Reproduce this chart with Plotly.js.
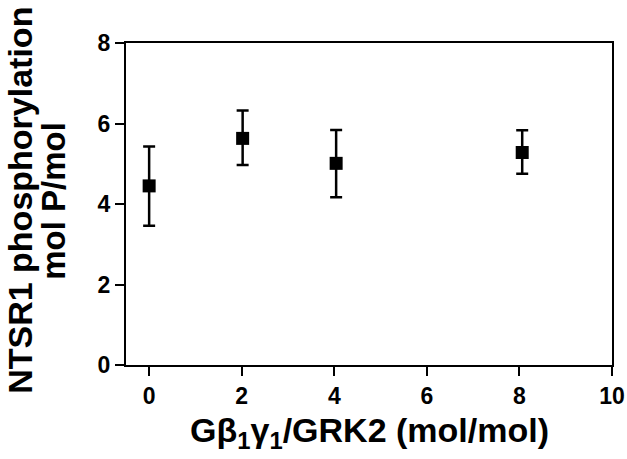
<!DOCTYPE html>
<html>
<head>
<meta charset="utf-8">
<script src="https://cdn.plot.ly/plotly-3.0.1.min.js"></script>
<style>html,body{margin:0;padding:0;background:#fff;}#chart{width:627px;height:459px;}</style>
</head>
<body>
<div id="chart"></div>
<script>
// Data
var ratio = [0, 2.02, 4.04, 8.06];          // Gβ1γ1/GRK2 (mol/mol)
var phospho = [4.45, 5.63, 5.01, 5.28];     // mol P/mol
var errUp = [0.98, 0.69, 0.83, 0.55];
var errDown = [0.99, 0.66, 0.84, 0.53];
var xTicks = [0, 2, 4, 6, 8, 10];
var yTicks = [0, 2, 4, 6, 8];
var xTitle = 'Gβ<sub>1</sub>γ<sub>1</sub>/GRK2 (mol/mol)';
var yTitle1 = 'NTSR1 phosphorylation';
var yTitle2 = 'mol P/mol';

var FONT = 'Liberation Sans, Arial, Helvetica, sans-serif';

var trace = {
  x: ratio, y: phospho, type: 'scatter', mode: 'markers',
  marker: {symbol: 'square', size: 13, color: '#000'},
  error_y: {type: 'data', symmetric: false, array: errUp, arrayminus: errDown,
            color: '#000', thickness: 2.5, width: 6},
  showlegend: false, hoverinfo: 'none'
};

function axisCommon() {
  return {
    showline: true, mirror: true, linecolor: '#000', linewidth: 2,
    ticks: 'outside', tickcolor: '#000', tickwidth: 2, ticklen: 9,
    showgrid: false, zeroline: false,
    tickfont: {family: FONT, size: 23, color: '#000', weight: 'bold'}
  };
}

var layout = {
  width: 627, height: 459,
  margin: {l: 126, r: 15, t: 43, b: 94},
  paper_bgcolor: '#fff', plot_bgcolor: '#fff',
  xaxis: Object.assign(axisCommon(), {range: [-0.5, 10], tickvals: xTicks}),
  yaxis: Object.assign(axisCommon(), {range: [0, 8], tickvals: yTicks}),
  annotations: [
    {text: '<b>' + xTitle + '</b>', xref: 'paper', yref: 'paper', x: 0.5, y: -0.21,
     xanchor: 'center', yanchor: 'middle', showarrow: false,
     font: {family: FONT, size: 34, color: '#000'}},
    {text: '<b>' + yTitle1 + '</b>', xref: 'paper', yref: 'paper', x: -0.218, y: 0.51,
     xanchor: 'center', yanchor: 'middle', textangle: -90, showarrow: false,
     font: {family: FONT, size: 34, color: '#000'}},
    {text: '<b>' + yTitle2 + '</b>', xref: 'paper', yref: 'paper', x: -0.148, y: 0.51,
     xanchor: 'center', yanchor: 'middle', textangle: -90, showarrow: false,
     font: {family: FONT, size: 33, color: '#000'}}
  ]
};

Plotly.newPlot('chart', [trace], layout, {staticPlot: true, displayModeBar: false});
</script>
</body>
</html>
